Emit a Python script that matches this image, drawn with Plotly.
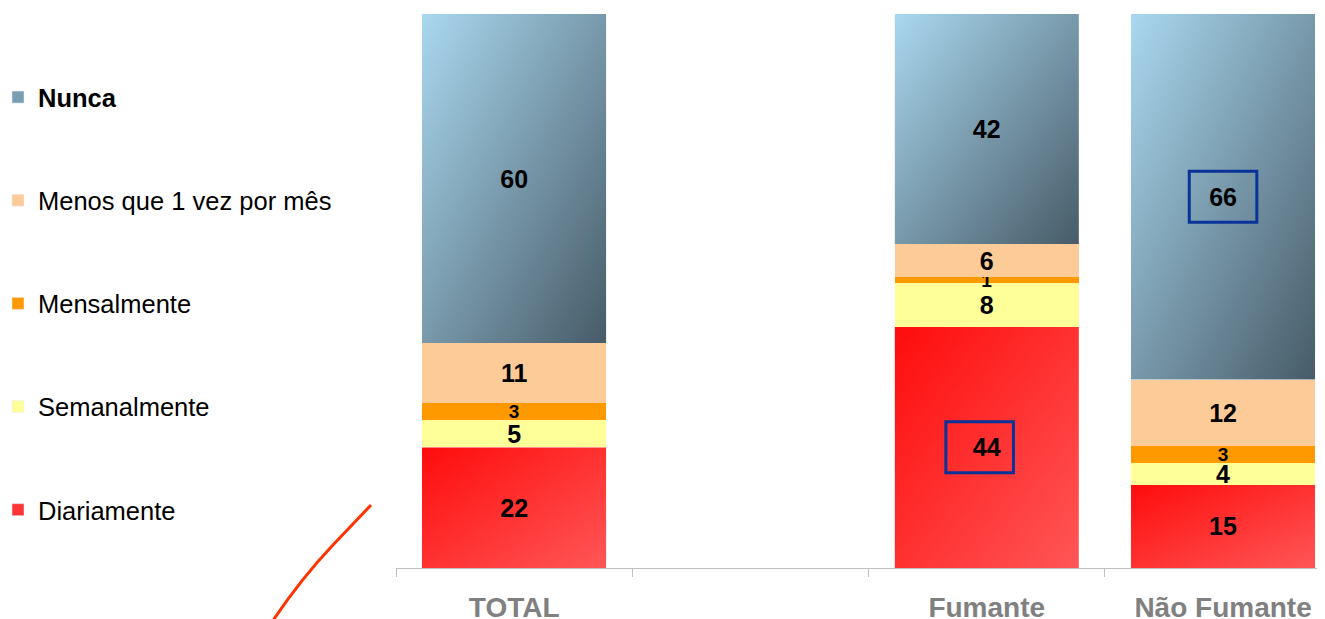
import base64
import plotly.graph_objects as go

# ---------------- data ----------------
categories = ["TOTAL", "", "Fumante", "Não Fumante"]
series_names = ["Diariamente", "Semanalmente", "Mensalmente", "Menos que 1 vez por mês", "Nunca"]
diariamente = [22, None, 44, 15]
semanalmente = [5, None, 8, 4]
mensalmente = [3, None, 1, 3]
menos_que_1 = [11, None, 6, 12]
nunca = [60, None, 42, 66]
highlight = [("Nunca", "Não Fumante"), ("Diariamente", "Fumante")]

values = [diariamente, semanalmente, mensalmente, menos_que_1, nunca]

# ---------------- style ----------------
OFF = 8  # page body margin
W, H = 1325 - OFF, 619 - OFF
ML, MR, MT, MB = 396 - OFF, 0, 14 - OFF, H - (568 - OFF)
PW, PH = W - ML - MR, H - MT - MB
BAR_W = 0.78
XRANGE = [-0.5, -0.5 + PW / 236.3]
solid = {
    "Diariamente": "rgba(0,0,0,0)",
    "Semanalmente": "#ffff99",
    "Mensalmente": "#ff9900",
    "Menos que 1 vez por mês": "#fccb98",
    "Nunca": "rgba(0,0,0,0)",
}
legend_color = {
    "Diariamente": "#ff3535",
    "Semanalmente": "#ffff99",
    "Mensalmente": "#ff9900",
    "Menos que 1 vez por mês": "#fccb98",
    "Nunca": "#7a9fb3",
}
gradients = {
    "Diariamente": ("#ff0c0c", "#ff5656"),
    "Nunca": ("#aad8f0", "#475b67"),
}
box_shift = {"Fumante": -0.03}
FONT = "Liberation Sans, Arial, sans-serif"


def grad_uri(c0, c1):
    svg = (
        '<svg xmlns="http://www.w3.org/2000/svg" width="100" height="100" '
        'viewBox="0 0 100 100" preserveAspectRatio="none"><defs>'
        '<linearGradient id="g" x1="0" y1="0" x2="1" y2="1">'
        f'<stop offset="0" stop-color="{c0}"/><stop offset="1" stop-color="{c1}"/>'
        '</linearGradient></defs><rect width="100" height="100" fill="url(#g)"/></svg>'
    )
    return "data:image/svg+xml;base64," + base64.b64encode(svg.encode()).decode()


xs = list(range(len(categories)))
fig = go.Figure()

for name, vals in zip(series_names, values):
    txt = ["" if v is None else str(v) for v in vals]
    sizes = [19 if (v is not None and v <= 3) else 25 for v in vals]
    fig.add_trace(go.Bar(
        x=xs, y=vals, name=name, showlegend=False,
        marker=dict(color=solid[name], line=dict(width=0)),
        width=BAR_W,
        text=txt, textposition="inside", insidetextanchor="middle",
        constraintext="none", textangle=0,
        textfont=dict(family=FONT, size=sizes, color="black", weight="bold"),
        hoverinfo="skip",
    ))

# legend entries (top to bottom)
for name in reversed(series_names):
    label = "<b>Nunca</b>" if name == "Nunca" else name
    fig.add_trace(go.Bar(
        x=[None], y=[None], name=label, legendgroup=name, showlegend=True,
        marker=dict(color=legend_color[name]),
    ))

# normalized stacks -> gradient images and highlight boxes
images, shapes = [], []
for ci, cat in enumerate(categories):
    col = [v[ci] for v in values]
    if any(v is None for v in col):
        continue
    tot = sum(col)
    base = 0.0
    for name, v in zip(series_names, col):
        h = v / tot * 100
        if name in gradients:
            images.append(dict(
                source=grad_uri(*gradients[name]), xref="x", yref="y",
                x=ci - BAR_W / 2, y=base + h, sizex=BAR_W, sizey=h,
                xanchor="left", yanchor="top", sizing="stretch", layer="below",
            ))
        if (name, cat) in highlight:
            mid = base + h / 2
            cx = ci + box_shift.get(cat, 0)
            shapes.append(dict(
                type="rect", xref="x", yref="y",
                x0=cx - 0.143, x1=cx + 0.143, y0=mid - 4.6, y1=mid + 4.6,
                line=dict(color="#0a3399", width=3), fillcolor="rgba(0,0,0,0)",
            ))
        base += h


def px(x, y):
    # reference page pixels -> paper coordinates
    return (x - OFF - ML) / PW, (H - MB - (y - OFF)) / PH


p = [px(371, 505), px(332, 546), px(300, 580), px(272, 622)]
path = "M {:.4f},{:.4f} L {:.4f},{:.4f} Q {:.4f},{:.4f} {:.4f},{:.4f}".format(
    p[0][0], p[0][1], p[1][0], p[1][1], p[2][0], p[2][1], p[3][0], p[3][1])
shapes.append(dict(type="path", xref="paper", yref="paper", path=path,
                   line=dict(color="#ff3300", width=3)))

lx, ly = px(-2, 74)
fig.update_layout(
    width=W, height=H, autosize=False,
    margin=dict(l=ML, r=MR, t=MT, b=MB, pad=0, autoexpand=False),
    barmode="stack", barnorm="percent",
    plot_bgcolor="white", paper_bgcolor="white",
    images=images, shapes=shapes,
    showlegend=True,
    legend=dict(
        x=lx, xanchor="left", y=ly, yanchor="top",
        traceorder="grouped", tracegroupgap=67,
        font=dict(family=FONT, size=25.5, color="black"),
        bgcolor="rgba(0,0,0,0)", itemclick=False,
    ),
    xaxis=dict(
        range=XRANGE, tickmode="array", tickvals=xs, ticktext=categories,
        ticks="", showline=True, linecolor="#c0c0c0", linewidth=1,
        showgrid=False, zeroline=False, ticklabelstandoff=14, automargin=False,
        tickfont=dict(family=FONT, size=28, color="#808080", weight="bold"),
        minor=dict(tickmode="array", tickvals=[-0.5, 0.5, 1.5, 2.5],
                   ticks="outside", ticklen=8, tickcolor="#c0c0c0", tickwidth=1),
    ),
    yaxis=dict(range=[0, 100], visible=False, showgrid=False, zeroline=False,
               automargin=False),
)

fig.write_html("out.html")
